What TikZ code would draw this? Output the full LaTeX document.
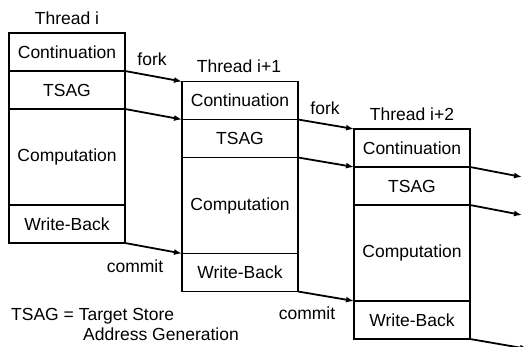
\documentclass[tikz,border=0pt]{standalone}
\usepackage{fontspec}
\setmainfont{Liberation Sans}
\usetikzlibrary{arrows.meta}
\begin{document}
\begin{tikzpicture}[x=1pt,y=-1pt,
  every node/.style={font=\fontsize{17.5}{20}\selectfont},
  row/.style={draw,line width=1.8pt,minimum width=116pt,inner sep=0pt,outer sep=0pt,anchor=north west},
  rs/.style={row,minimum height=38pt},
  rl/.style={row,minimum height=96pt},
  lbl/.style={anchor=base,inner sep=0pt},
  flow/.style={line width=1.8pt,-{Latex[length=8pt,width=6pt]}}]
\useasboundingbox (0,0) rectangle (525,347);
% Thread i
\node[rs] (c0) at (9,33) {Continuation};
\node[rs] (t0) at (c0.south west) {TSAG};
\node[rl] (p0) at (t0.south west) {Computation};
\node[rs] (w0) at (p0.south west) {Write-Back};
% Thread i+1
\node[rs] (c1) at (182,81.5) {Continuation};
\node[rs] (t1) at (c1.south west) {TSAG};
\node[rl] (p1) at (t1.south west) {Computation};
\node[rs] (w1) at (p1.south west) {Write-Back};
% Thread i+2
\node[rs] (c2) at (354,129) {Continuation};
\node[rs] (t2) at (c2.south west) {TSAG};
\node[rl] (p2) at (t2.south west) {Computation};
\node[rs] (w2) at (p2.south west) {Write-Back};
% labels
\node[lbl] (h0) at (67,25) {Thread i};
\node[lbl] (h1) at (239,73) {Thread i+1};
\node[lbl] (h2) at (412,121) {Thread i+2};
\node[lbl] (f0) at (152,66) {fork};
\node[lbl] (f1) at (325,115) {fork};
\node[lbl] (m0) at (135,273) {commit};
\node[lbl] (m1) at (307,320) {commit};
\node[anchor=base west,inner sep=0pt] (k1) at (11,321) {TSAG = Target Store};
\node[anchor=base west,inner sep=0pt] (k2) at (83,341) {Address Generation};
% arrows
\coordinate (o1) at (522,177);
\coordinate (o2) at (522,215);
\coordinate (o3) at (528,349);
\draw[flow] (c0.south east) -- (c1.north west);
\draw[flow] (t0.south east) -- (t1.north west);
\draw[flow] (w0.south east) -- (w1.north west);
\draw[flow] (c1.south east) -- (c2.north west);
\draw[flow] (t1.south east) -- (t2.north west);
\draw[flow] (w1.south east) -- (w2.north west);
\draw[flow] (c2.south east) -- (o1);
\draw[flow] (t2.south east) -- (o2);
\draw[flow] (w2.south east) -- (o3);
\end{tikzpicture}
\end{document}
